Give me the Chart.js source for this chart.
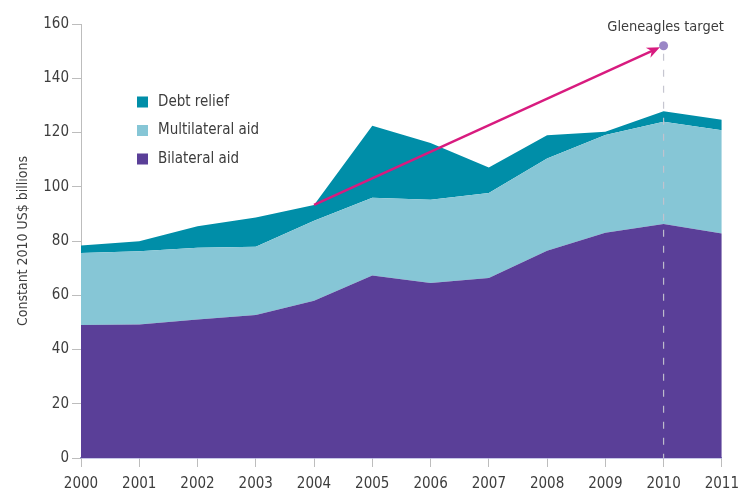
<!DOCTYPE html>
<html><head><meta charset="utf-8">
<script src="https://cdn.jsdelivr.net/npm/chart.js@4/dist/chart.umd.min.js"></script>
<style>html,body{margin:0;padding:0;background:#fff}</style>
</head><body>
<canvas id="c" width="747" height="491"></canvas>
<script>
// Official development assistance by type, constant 2010 US$ billions
const years = ['2000','2001','2002','2003','2004','2005','2006','2007','2008','2009','2010','2011'];
const bilateralAid   = [49.0, 49.2, 51.1, 52.7, 58.0, 67.3, 64.5, 66.4, 76.4, 83.0, 86.3, 82.8];
const multilateralAid = [26.6, 27.0, 26.4, 25.2, 29.5, 28.6, 30.7, 31.3, 34.0, 36.1, 37.7, 38.0];
const debtRelief     = [2.7, 3.7, 7.9, 10.8, 5.8, 26.6, 20.9, 9.4, 8.6, 1.2, 3.8, 3.9];
const yTicks = [0, 20, 40, 60, 80, 100, 120, 140, 160];

const targetLabel = 'Gleneagles target';
const targetYear = '2010';
const targetValue = 152;
const arrowStartYear = '2004';

const FONT = "'Liberation Sans Narrow', 'DejaVu Sans Condensed', sans-serif";
const TEXT = '#3d3d3d';

const legendPlugin = {
  id: 'boxLegend',
  afterDraw(chart) {
    const ctx = chart.ctx;
    const sets = chart.data.datasets.slice().reverse();
    ctx.save();
    ctx.font = '15px ' + FONT;
    ctx.textBaseline = 'middle';
    ctx.textAlign = 'left';
    sets.forEach((ds, i) => {
      const y = 102 + i * 28.5;
      ctx.fillStyle = ds.backgroundColor;
      ctx.fillRect(137, y - 5.5, 11, 11);
      ctx.fillStyle = TEXT;
      ctx.fillText(ds.label, 158, y);
    });
    ctx.restore();
  }
};

const targetPlugin = {
  id: 'target',
  afterDatasetsDraw(chart) {
    const ctx = chart.ctx, xs = chart.scales.x, ys = chart.scales.y;
    const i0 = years.indexOf(arrowStartYear);
    const startVal = bilateralAid[i0] + multilateralAid[i0] + debtRelief[i0];
    const x0 = xs.getPixelForValue(i0), y0 = ys.getPixelForValue(startVal);
    const i1 = years.indexOf(targetYear);
    const x1 = xs.getPixelForValue(i1), y1 = ys.getPixelForValue(targetValue);
    ctx.save();
    // dashed guide from target down to the axis
    ctx.strokeStyle = 'rgba(195,195,205,0.95)';
    ctx.lineWidth = 1.2;
    ctx.setLineDash([7, 9]);
    ctx.beginPath();
    ctx.moveTo(x1, y1 + 8);
    ctx.lineTo(x1, ys.getPixelForValue(0));
    ctx.stroke();
    ctx.setLineDash([]);
    // target marker
    ctx.fillStyle = '#9a86c6';
    ctx.beginPath();
    ctx.arc(x1, y1, 4.5, 0, Math.PI * 2);
    ctx.fill();
    // arrow
    const ang = Math.atan2(y1 - y0, x1 - x0);
    const ex = x1 - Math.cos(ang) * 4, ey = y1 - Math.sin(ang) * 4;
    ctx.strokeStyle = '#d81b7f';
    ctx.fillStyle = '#d81b7f';
    ctx.lineWidth = 2.4;
    ctx.beginPath();
    ctx.moveTo(x0, y0);
    ctx.lineTo(ex - Math.cos(ang) * 8, ey - Math.sin(ang) * 8);
    ctx.stroke();
    const L = 13, W = 5.5;
    ctx.beginPath();
    ctx.moveTo(ex, ey);
    ctx.lineTo(ex - Math.cos(ang) * L - Math.sin(ang) * W, ey - Math.sin(ang) * L + Math.cos(ang) * W);
    ctx.lineTo(ex - Math.cos(ang) * (L - 4), ey - Math.sin(ang) * (L - 4));
    ctx.lineTo(ex - Math.cos(ang) * L + Math.sin(ang) * W, ey - Math.sin(ang) * L - Math.cos(ang) * W);
    ctx.closePath();
    ctx.fill();
    // label
    ctx.font = '14.5px ' + FONT;
    ctx.fillStyle = TEXT;
    ctx.textAlign = 'center';
    ctx.textBaseline = 'alphabetic';
    ctx.fillText(targetLabel, x1 + 2, y1 - 15);
    ctx.restore();
  }
};

const area = (label, data, color, fill) => ({
  label, data, backgroundColor: color, borderColor: color, borderWidth: 0,
  fill, pointRadius: 0, tension: 0
});

new Chart(document.getElementById('c'), {
  type: 'line',
  data: {
    labels: years,
    datasets: [
      area('Bilateral aid', bilateralAid, '#5a3f98', 'origin'),
      area('Multilateral aid', multilateralAid, '#86c6d6', '-1'),
      area('Debt relief', debtRelief, '#008ea8', '-1')
    ]
  },
  options: {
    responsive: false,
    animation: false,
    devicePixelRatio: 1,
    layout: { padding: { top: 24, right: 25, left: 0, bottom: 0 } },
    plugins: { legend: { display: false }, tooltip: { enabled: false } },
    scales: {
      x: {
        offset: false,
        grid: { display: true, drawOnChartArea: false, color: '#bdbdbd', tickLength: 9 },
        border: { color: '#8f8fcf', width: 1.5 },
        ticks: { color: TEXT, font: { family: FONT, size: 15 }, padding: 8, maxRotation: 0 },
        afterFit(s) { s.height = 33; }
      },
      y: {
        stacked: true,
        min: 0, max: 160,
        afterBuildTicks(s) { s.ticks = yTicks.map(v => ({ value: v })); },
        grid: { display: true, drawOnChartArea: false, color: '#bdbdbd', tickLength: 9 },
        border: { color: '#bdbdbd', width: 1 },
        ticks: { color: TEXT, font: { family: FONT, size: 15 }, padding: 3 },
        title: { display: true, text: 'Constant 2010 US$ billions', color: TEXT, font: { family: FONT, size: 14 }, padding: { top: 15, bottom: 0 } },
        afterFit(s) { s.width = 81; }
      }
    }
  },
  plugins: [targetPlugin, legendPlugin]
});
</script>
</body></html>
